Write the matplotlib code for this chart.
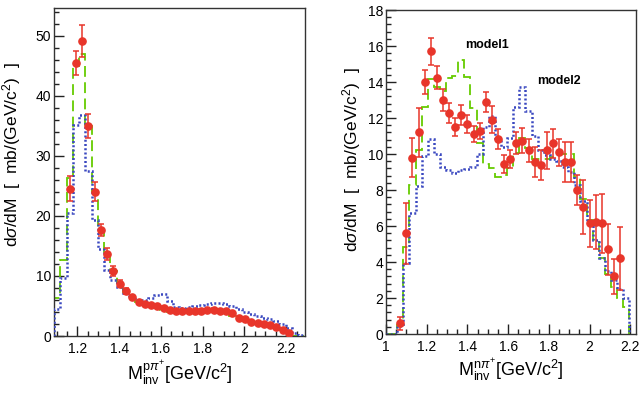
import matplotlib
matplotlib.use("Agg")
import matplotlib.pyplot as plt
import numpy as np
from matplotlib.ticker import MultipleLocator, FormatStrFormatter

plt.rcParams['font.family'] = ['Liberation Sans', 'DejaVu Sans']
plt.rcParams['mathtext.fontset'] = 'custom'
plt.rcParams['mathtext.rm'] = 'Liberation Sans'
plt.rcParams['mathtext.it'] = 'Liberation Sans:italic'
plt.rcParams['mathtext.bf'] = 'Liberation Sans:bold'

# ---------------- left panel: p pi+ ----------------
left_bin_start = 1.0875
left_bin_width = 0.03
left_model1 = [6.4, 12.7, 26.3, 45.0, 47.0, 35.0, 24.0, 17.5, 13.4, 10.8,
               8.9, 7.4, 6.4, 5.7, 5.3, 5.0, 4.7, 4.3, 4.0, 4.0,
               4.0, 4.0, 4.0, 4.0, 4.0, 4.0, 4.0, 3.9, 3.4, 3.0,
               2.7, 2.4, 2.2, 1.9, 1.6, 1.3, 1.0, 0.4, 0.0, 0.0]
left_model2 = [4.5, 9.6, 20.4, 35.2, 36.8, 27.4, 19.3, 14.4, 11.0, 9.3,
               8.2, 7.1, 6.5, 6.0, 6.0, 6.4, 6.9, 7.0, 5.8, 4.8,
               4.7, 4.8, 5.0, 5.2, 5.4, 5.5, 5.5, 5.3, 5.0, 4.5,
               4.0, 3.6, 3.3, 3.0, 2.8, 2.5, 2.0, 1.3, 0.5, 0.1]
left_x = [1.1625, 1.1925, 1.2225, 1.2525, 1.2825, 1.3125, 1.3425, 1.3725, 1.4025, 1.4325,
          1.4625, 1.4925, 1.5225, 1.5525, 1.5825, 1.6125, 1.6425, 1.6725, 1.7025, 1.7325,
          1.7625, 1.7925, 1.8225, 1.8525, 1.8825, 1.9125, 1.9425, 1.9725, 2.0025, 2.0325,
          2.0625, 2.0925, 2.1225, 2.1525, 2.1825, 2.2125]
left_y = [24.5, 45.4, 49.1, 34.9, 24.0, 17.7, 13.6, 10.8, 8.7, 7.5,
          6.5, 5.6, 5.3, 5.1, 5.0, 4.7, 4.25, 4.15, 4.15, 4.15,
          4.15, 4.2, 4.25, 4.35, 4.2, 4.15, 3.9, 3.0, 2.8, 2.4,
          2.15, 2.05, 1.75, 1.45, 1.05, 0.5]
left_err = [2.1, 2.0, 2.6, 2.0, 1.6, 1.0, 1.0, 0.8, 0.6, 0.5,
            0.4, 0.3, 0.3, 0.3, 0.3, 0.3, 0.25, 0.25, 0.25, 0.25,
            0.25, 0.25, 0.25, 0.25, 0.25, 0.25, 0.25, 0.25, 0.25, 0.25,
            0.25, 0.25, 0.25, 0.25, 0.25, 0.2]

# ---------------- right panel: n pi+ ----------------
right_bin_edges = [1.0, 1.025, 1.055, 1.085, 1.115, 1.145, 1.175, 1.205, 1.235, 1.265,
                   1.295, 1.325, 1.355, 1.385, 1.415, 1.445, 1.475, 1.505, 1.535, 1.565,
                   1.595, 1.625, 1.655, 1.685, 1.715, 1.745, 1.775, 1.805, 1.835, 1.865,
                   1.895, 1.925, 1.955, 1.985, 2.015, 2.045, 2.075, 2.105, 2.135, 2.165,
                   2.195]
right_model1 = [0.0, 0.0, 0.5, 4.85, 8.3, 10.25, 12.6, 14.15, 13.7, 13.5,
                14.2, 14.35, 15.2, 14.3, 12.55, 10.6, 9.45, 9.25, 8.7, 8.85,
                9.2, 10.05, 10.9, 10.35, 9.75, 9.75, 9.7, 9.85, 10.0, 10.0,
                10.0, 8.75, 7.5, 6.33, 5.2, 4.2, 3.33, 2.63, 2.02, 1.52]
right_model2 = [0.0, 0.0, 0.45, 3.95, 6.7, 8.2, 9.9, 10.85, 10.0, 9.3,
                9.1, 8.95, 9.1, 9.15, 9.3, 10.0, 11.5, 12.1, 10.9, 10.4,
                10.9, 12.6, 13.75, 12.4, 11.0, 10.2, 9.95, 9.75, 9.6, 9.3,
                9.0, 8.3, 7.4, 6.2, 5.2, 4.2, 3.5, 3.0, 2.5, 2.0]
right_x = [1.07, 1.10, 1.13, 1.16, 1.19, 1.22, 1.25, 1.28, 1.31, 1.34,
           1.37, 1.40, 1.43, 1.46, 1.49, 1.52, 1.55, 1.58, 1.61, 1.64,
           1.67, 1.70, 1.73, 1.76, 1.79, 1.82, 1.85, 1.88, 1.91, 1.94,
           1.97, 2.00, 2.03, 2.06, 2.09, 2.12, 2.15]
right_y = [0.6, 5.6, 9.8, 11.2, 14.0, 15.7, 14.25, 13.0, 12.3, 11.5,
           12.15, 11.65, 11.1, 11.3, 12.9, 11.9, 10.85, 9.45, 9.7, 10.6,
           10.75, 10.2, 9.55, 9.4, 10.2, 10.6, 10.1, 9.55, 9.55, 8.0,
           7.05, 6.15, 6.2, 6.15, 4.7, 3.2, 4.2]
right_err = [0.35, 1.7, 1.1, 1.35, 0.65, 0.75, 0.65, 0.6, 0.55, 0.5,
             0.55, 0.5, 0.45, 0.45, 0.55, 0.75, 0.55, 0.5, 0.5, 0.6,
             0.7, 0.65, 0.85, 0.85, 1.05, 0.8, 0.75, 1.1, 1.1, 0.85,
             1.5, 1.3, 1.5, 1.65, 1.4, 0.95, 1.75]

left_edges = left_bin_start + left_bin_width * np.arange(len(left_model1) + 1)

RED = '#e8352a'
GREEN = '#66cc00'
BLUE = '#3a48c0'

fig = plt.figure(figsize=(6.41, 3.98), dpi=100)
axL = fig.add_axes([54 / 641, 1 - 336 / 398, 251 / 641, 328 / 398])
axR = fig.add_axes([386 / 641, 1 - 334 / 398, 250 / 641, 324 / 398])


def draw(ax, edges, m1, m2, x, y, err):
    ax.stairs(m1, edges, color=GREEN, lw=1.3, ls=(0, (6, 3)), zorder=2)
    ax.stairs(m2, edges, color=BLUE, lw=1.8, ls=(0, (0.8, 0.9)), zorder=3)
    ax.errorbar(x, y, yerr=err, fmt='o', color=RED, ms=5.2, mec=RED,
                elinewidth=1.1, capsize=2.2, capthick=1.1, zorder=5)


draw(axL, left_edges, left_model1, left_model2, left_x, left_y, left_err)
draw(axR, right_bin_edges, right_model1, right_model2, right_x, right_y, right_err)

axL.set_xlim(1.0875, 2.29)
axL.set_ylim(0, 54.6)
axR.set_xlim(1.0, 2.228)
axR.set_ylim(0, 18)

for ax, ymaj, ymin in ((axL, 10, 2), (axR, 2, 0.4)):
    ax.xaxis.set_major_locator(MultipleLocator(0.2))
    ax.xaxis.set_minor_locator(MultipleLocator(0.05))
    ax.yaxis.set_major_locator(MultipleLocator(ymaj))
    ax.yaxis.set_minor_locator(MultipleLocator(ymin))
    ax.xaxis.set_major_formatter(FormatStrFormatter('%g'))
    ax.yaxis.set_major_formatter(FormatStrFormatter('%g'))
    ax.tick_params(which='both', direction='in', top=False, right=False,
                   labelsize=10, width=1.0, color='#222222')
    ax.tick_params(which='major', length=7)
    ax.tick_params(which='minor', length=3.5)
    ax.tick_params(axis='y', pad=2)
    ax.tick_params(axis='x', pad=4)
    for s in ax.spines.values():
        s.set_linewidth(1.0)
        s.set_color('#333333')

axL.set_xlabel(r'M$_{\mathrm{inv}}^{\mathrm{p}\pi^{+}}$[GeV/c$^{2}$]', fontsize=13, labelpad=2)
axR.set_xlabel(r'M$_{\mathrm{inv}}^{\mathrm{n}\pi^{+}}$[GeV/c$^{2}$]', fontsize=13, labelpad=2)

ylab = r'd$\sigma$/dM  [  mb/(GeV/c$^{2}$)  ]'
fig.text(12 / 641, 1 - 155 / 398, ylab, rotation=90, fontsize=12.5, ha='center', va='center')
fig.text(352 / 641, 1 - 160 / 398, ylab, rotation=90, fontsize=12.5, ha='center', va='center')

axR.text(1.4975, 16.05, 'model1', fontsize=9, fontweight='bold', ha='center', va='center')
axR.text(1.851, 14.05, 'model2', fontsize=9, fontweight='bold', ha='center', va='center')

fig.savefig('out.png', dpi=100)
